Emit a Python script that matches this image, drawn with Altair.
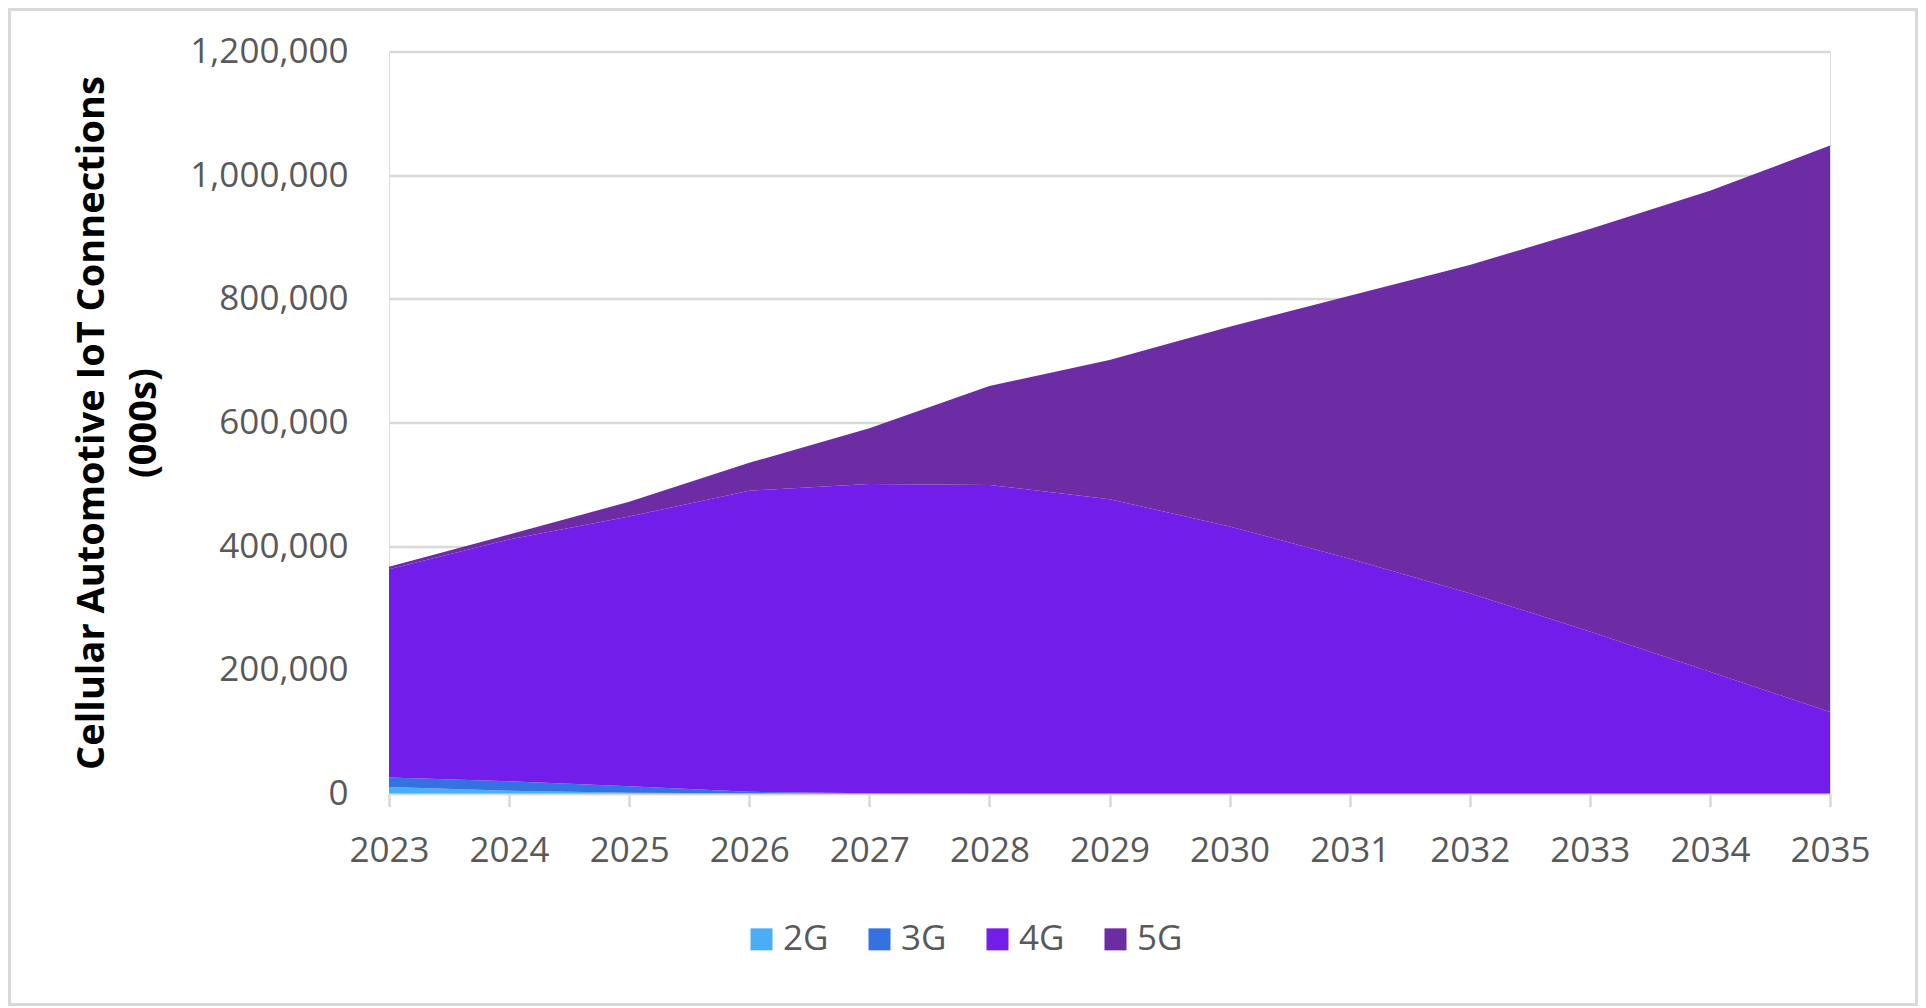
import altair as alt
import pandas as pd

years = [2023, 2024, 2025, 2026, 2027, 2028, 2029, 2030, 2031, 2032, 2033, 2034, 2035]
g2 = [10500, 4500, 1500, 400, 100, 50, 0, 0, 0, 0, 0, 0, 0]
g3 = [15500, 15500, 10500, 2500, 600, 200, 100, 0, 0, 0, 0, 0, 0]
g4 = [337000, 391000, 436000, 487000, 500000, 499000, 476000, 432000, 380000, 324000, 262000, 197000, 132000]
g5 = [4000, 8000, 24000, 45000, 90000, 160000, 225000, 323000, 425000, 531000, 651000, 778000, 916000]
series = ["2G", "3G", "4G", "5G"]
colors = ["#4AADF7", "#3572E1", "#721DEA", "#6C2CA4"]
y_ticks = [0, 200000, 400000, 600000, 800000, 1000000, 1200000]

rows = []
for name, vals in zip(series, [g2, g3, g4, g5]):
    for yr, v in zip(years, vals):
        rows.append({"Year": yr, "Tech": name, "Value": v, "ord": series.index(name)})
df = pd.DataFrame(rows)

W, H = 1441, 742
PL, PT = 381, 43.6
TOTW, TOTH = 1910, 998
PR = TOTW - PL - W
PB = TOTH - PT - H

FONT = "Open Sans"
GRAY = "#595959"
LINE = "#D9D9D9"

area = alt.Chart(df).mark_area(opacity=1, strokeWidth=0).encode(
    x=alt.X("Year:Q",
            scale=alt.Scale(domain=[years[0], years[-1]], nice=False, zero=False),
            axis=alt.Axis(values=years, format="d", title=None, grid=False,
                          domain=True, domainColor=LINE, domainWidth=2.5,
                          ticks=True, tickColor=LINE, tickWidth=2.5, tickSize=13,
                          labelFont=FONT, labelFontSize=35, labelColor=GRAY,
                          labelPadding=27, labelFlush=False)),
    y=alt.Y("Value:Q", stack="zero",
            scale=alt.Scale(domain=[0, 1200000], nice=False),
            axis=alt.Axis(values=y_ticks, format=",d",
                          title=["Cellular Automotive IoT Connections", "(000s)"],
                          titleFont=FONT, titleFontSize=38, titleFontWeight="bold",
                          titleColor="#000000", titleAngle=270, titleAlign="center",
                          titleBaseline="alphabetic", titleX=-286, titleY=371,
                          titleLineHeight=52,
                          grid=True, gridColor=LINE, gridWidth=2.5,
                          domain=False, ticks=False,
                          labelFont=FONT, labelFontSize=35, labelColor=GRAY,
                          labelPadding=41)),
    color=alt.Color("Tech:N",
                    scale=alt.Scale(domain=series, range=colors),
                    legend=alt.Legend(title=None, orient="none", direction="horizontal",
                                      legendX=355, legendY=870, padding=0,
                                      symbolType="square", symbolSize=484,
                                      symbolStrokeWidth=0, symbolOpacity=1,
                                      labelFont=FONT, labelFontSize=35, labelColor=GRAY,
                                      labelOffset=4, columnPadding=33)),
    order=alt.Order("ord:Q", sort="ascending"),
)

frame = alt.Chart(pd.DataFrame({"a": [0]})).mark_rect(
    fillOpacity=0, stroke=LINE, strokeWidth=3
).encode(
    x=alt.value(-PL + 1.5), x2=alt.value(W + PR - 1.5),
    y=alt.value(-PT + 1.5), y2=alt.value(H + PB - 1.5),
)

chart = alt.layer(frame, area).properties(
    width=W, height=H,
    padding={"left": PL, "top": PT, "right": PR, "bottom": PB},
    autosize=alt.AutoSizeParams(type="none"),
).configure_view(stroke=None).configure(background="#FFFFFF")

chart.save("out.html", embed_options={"renderer": "svg", "actions": False})
